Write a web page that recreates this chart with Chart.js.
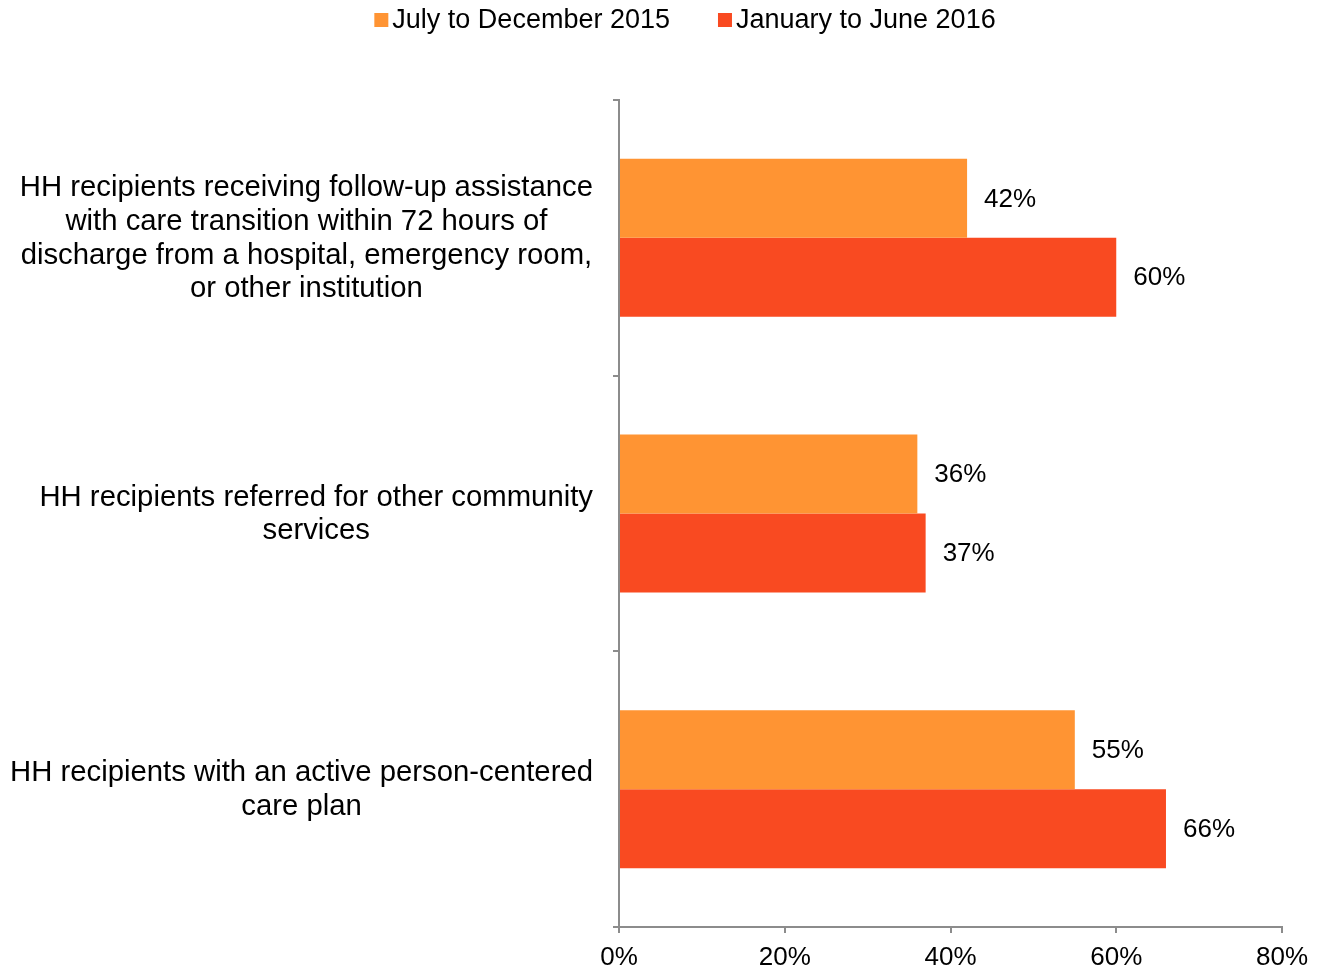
<!DOCTYPE html>
<html>
<head>
<meta charset="utf-8">
<script src="https://cdn.jsdelivr.net/npm/chart.js@4.4.1/dist/chart.umd.min.js"></script>
<style>
  html, body { margin: 0; padding: 0; background: #fff; }
  #wrap { width: 1323px; height: 973px; }
</style>
</head>
<body>
<div id="wrap"><canvas id="chart" width="1323" height="973"></canvas></div>
<script>
const categories = [
  ['HH recipients receiving follow-up assistance', 'with care transition within 72 hours of', 'discharge from a hospital, emergency room,', 'or other institution'],
  ['HH recipients referred for other community', 'services'],
  ['HH recipients with an active person-centered', 'care plan']
];
const seriesNames = ['July to December 2015', 'January to June 2016'];
const julDec2015 = [42, 36, 55];
const janJun2016 = [60, 37, 66];
const xTicks = [0, 20, 40, 60, 80];

const FONT = 'Arial, "Liberation Sans", sans-serif';
const colors = ['#FF9433', '#F94A21'];
const axisGray = '#8c8c8c';

// legend drawn by hand so the box/text spacing stays tight
const topLegend = {
  id: 'topLegend',
  afterDraw(chart) {
    const ctx = chart.ctx;
    ctx.save();
    ctx.font = '27px ' + FONT;
    ctx.textBaseline = 'middle';
    const box = 14, gapText = 4, gapItem = 48;
    const items = chart.data.datasets.map(ds => ({
      text: ds.label, color: ds.backgroundColor, w: ctx.measureText(ds.label).width
    }));
    let total = 0;
    items.forEach((it, i) => { total += box + gapText + it.w + (i ? gapItem : 0); });
    let x = 685 - total / 2;
    const y = 20;
    items.forEach((it, i) => {
      if (i) x += gapItem;
      ctx.fillStyle = it.color;
      ctx.fillRect(x, y - box / 2, box, box);
      x += box + gapText;
      ctx.fillStyle = '#000';
      ctx.fillText(it.text, x, y + 1);
      x += it.w;
    });
    ctx.restore();
  }
};

// category labels: each block centred on itself, blocks flush against the axis
const categoryLabels = {
  id: 'categoryLabels',
  afterDraw(chart) {
    const ctx = chart.ctx;
    const yScale = chart.scales.y;
    const size = 29.3, lineH = size * 1.15;
    ctx.save();
    ctx.font = size + 'px ' + FONT;
    ctx.fillStyle = '#000';
    ctx.textAlign = 'center';
    ctx.textBaseline = 'middle';
    const right = yScale.right - 6 - 20;
    chart.data.labels.forEach((lines, i) => {
      const w = Math.max(...lines.map(l => ctx.measureText(l).width));
      const cx = right - w / 2;
      const cy = yScale.getPixelForValue(i);
      lines.forEach((l, k) => {
        ctx.fillText(l, cx, cy + (k - (lines.length - 1) / 2) * lineH + 1);
      });
    });
    ctx.restore();
  }
};

// value labels just past the end of each bar
const barValues = {
  id: 'barValues',
  afterDatasetsDraw(chart) {
    const ctx = chart.ctx;
    ctx.save();
    ctx.font = '26px ' + FONT;
    ctx.fillStyle = '#000';
    ctx.textBaseline = 'middle';
    chart.data.datasets.forEach((ds, i) => {
      chart.getDatasetMeta(i).data.forEach((bar, j) => {
        ctx.fillText(ds.data[j] + '%', bar.x + 17, bar.y + 1);
      });
    });
    ctx.restore();
  }
};

new Chart(document.getElementById('chart'), {
  type: 'bar',
  data: {
    labels: categories,
    datasets: [
      { label: seriesNames[0], data: julDec2015, backgroundColor: colors[0] },
      { label: seriesNames[1], data: janJun2016, backgroundColor: colors[1] }
    ]
  },
  options: {
    indexAxis: 'y',
    responsive: false,
    animation: false,
    categoryPercentage: 0.573,
    barPercentage: 1,
    layout: { padding: { top: 100, left: 10, right: 41, bottom: 0 } },
    plugins: {
      legend: { display: false },
      tooltip: { enabled: false }
    },
    scales: {
      x: {
        min: 0,
        max: 80,
        afterBuildTicks: axis => { axis.ticks = xTicks.map(v => ({ value: v })); },
        afterFit: axis => { axis.height = 46; },
        ticks: {
          callback: v => v + '%',
          color: '#000',
          padding: 9,
          maxRotation: 0,
          font: { family: FONT, size: 26 }
        },
        grid: { drawOnChartArea: false, color: axisGray, tickLength: 6, lineWidth: 2 },
        border: { color: axisGray, width: 2 }
      },
      y: {
        afterFit: axis => {
          axis.width = 609;
          axis.paddingTop = 0;
          axis.paddingBottom = 0;
        },
        ticks: { display: false },
        grid: { drawOnChartArea: false, color: axisGray, tickLength: 6, lineWidth: 2, offset: true },
        border: { color: axisGray, width: 2 }
      }
    }
  },
  plugins: [topLegend, categoryLabels, barValues]
});
</script>
</body>
</html>
